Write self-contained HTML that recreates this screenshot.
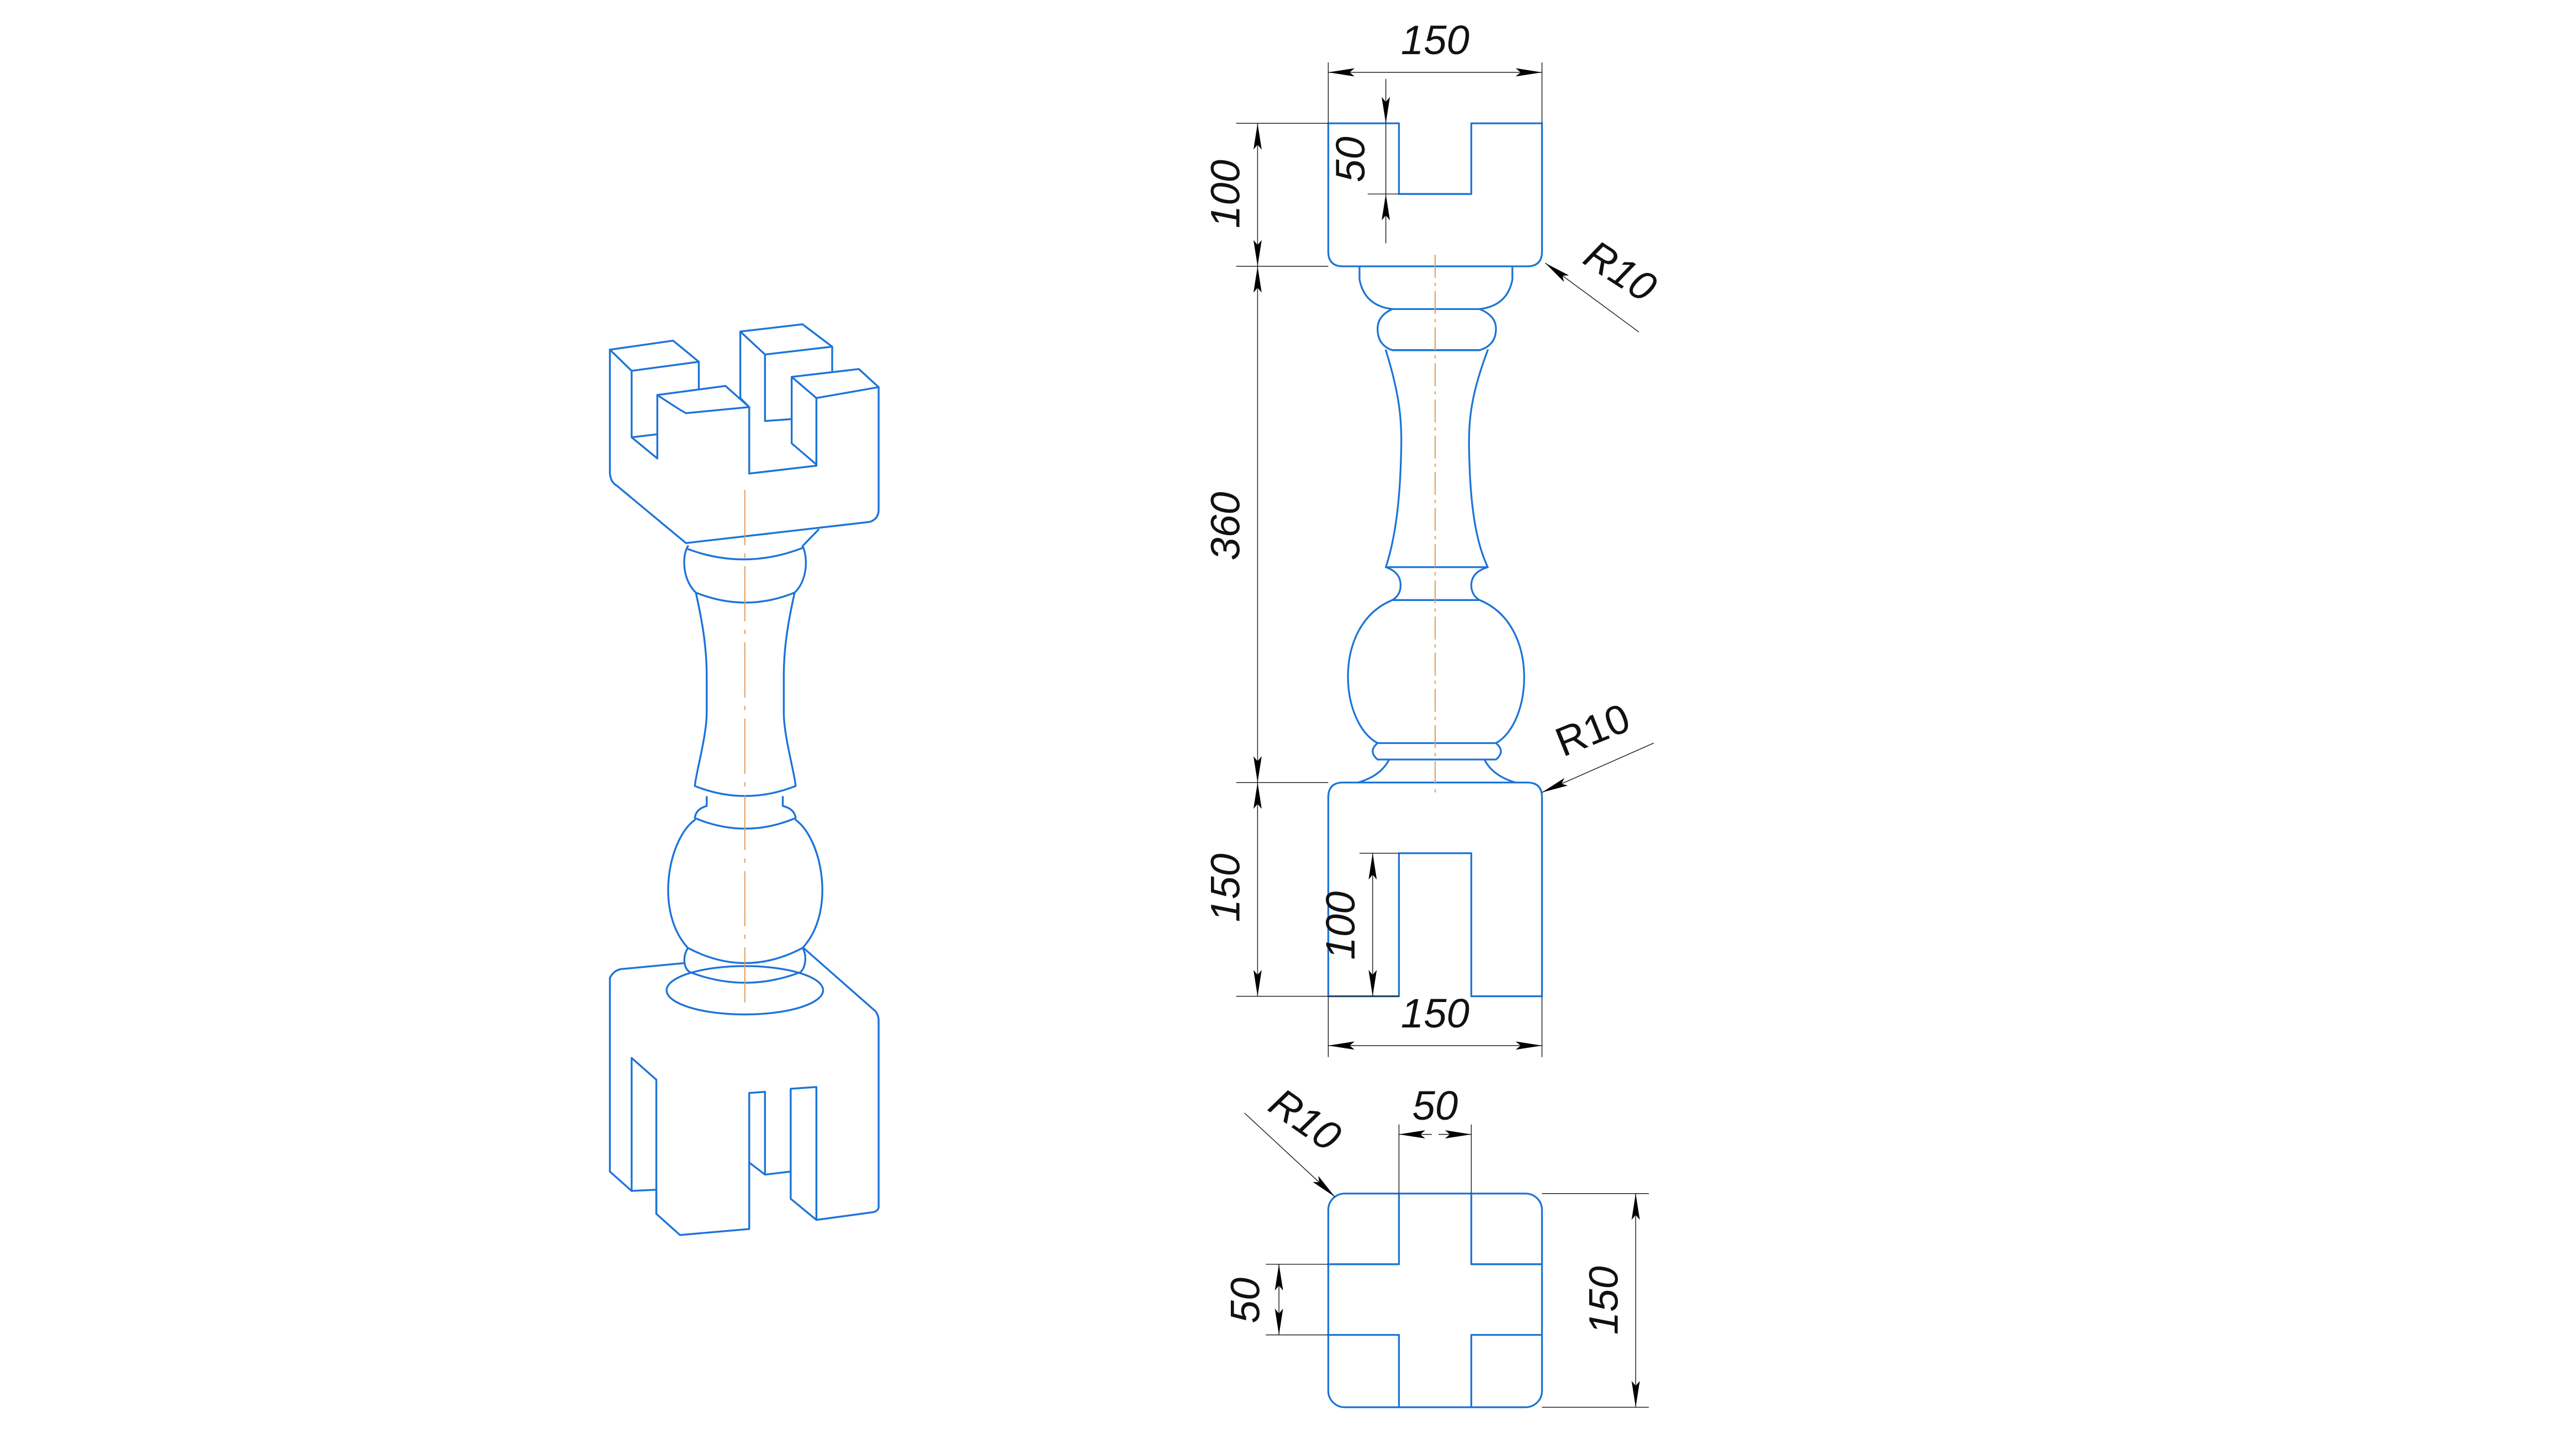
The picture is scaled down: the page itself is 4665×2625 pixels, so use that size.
<!DOCTYPE html>
<html><head><meta charset="utf-8"><style>
html,body{margin:0;padding:0;background:#fff;}
svg{display:block;}
.b{fill:none;stroke:#1d74d8;stroke-width:1.1;stroke-linejoin:round;stroke-linecap:round;}
.k{fill:none;stroke:#222;stroke-width:0.5;}
.c{fill:none;stroke:#e0a060;stroke-width:0.7;stroke-dasharray:14,3,2,3;}
text{font-family:"Liberation Sans",sans-serif;font-style:italic;font-size:25px;fill:#111;}
.iso .b path{vector-effect:non-scaling-stroke;stroke-width:3.4;}
.iso .c{vector-effect:non-scaling-stroke;stroke-width:2;}
</style></head><body>
<svg width="4665" height="2625" viewBox="0 0 1567 882" preserveAspectRatio="none" xmlns="http://www.w3.org/2000/svg">
<defs>
<marker id="a" viewBox="0 0 16 5" refX="16" refY="2.5" markerWidth="16" markerHeight="5" markerUnits="userSpaceOnUse" orient="auto-start-reverse"><path d="M0,0 L16,2.5 L0,5 L3,2.5 Z" fill="#000"/></marker>
</defs>

<!-- Isometric -->
<g class="iso" transform="translate(363.19,190.65) scale(0.1202,0.3676)">
<g class="b">
<path d="M65,60 L385,45 L515,80 L175,95 Z"/>
<path d="M175,95 L175,205 L305,240 M175,205 L305,200 M305,135 L305,240 M515,80 L515,125"/>
<path d="M305,135 L650,120 L770,155 L450,165 Q420,160 305,135 Z"/>
<path d="M770,155 L770,265 L1110,252 L1110,140"/>
<path d="M725,30 L1040,18 L1190,55 L850,68 Z M725,30 L725,140 L770,155 M850,68 L850,178 L980,175 M1190,55 L1190,95"/>
<path d="M985,105 L1325,92 L1425,122 L1110,140 Z M985,105 L985,215 L1110,250"/>
<path d="M65,60 L65,265 Q70,280 100,285 L450,380 L1380,345 Q1425,340 1425,325 L1425,122"/>
<path d="M460,385 C430,400 430,440 500,462 Q750,495 1000,462 C1070,440 1065,400 1040,385 M460,390 Q750,425 1040,388 M1040,385 L1120,358"/>
<path d="M500,462 C540,520 555,560 555,600 L555,660 C555,700 500,760 495,782 Q750,815 1005,782 C1000,760 945,700 945,660 L945,600 C945,560 960,520 1000,462"/>
<path d="M555,800 L555,815 M940,800 L940,815 M555,815 Q500,820 495,835 Q750,870 1005,835 Q1000,820 940,815"/>
<path d="M495,838 C360,870 290,990 460,1050 M1005,838 C1140,870 1210,990 1040,1050 M460,1050 Q750,1100 1040,1050"/>
<path d="M460,1050 C430,1065 440,1085 470,1090 Q750,1125 1030,1090 C1060,1080 1060,1060 1040,1050"/>
<path d="M352,1120 A396,40 0 1 0 1144,1120 A396,40 0 1 0 352,1120"/>
<path d="M65,1100 Q80,1088 120,1085 L440,1075 M1045,1050 L1410,1155 Q1425,1162 1425,1170 L1425,1480 Q1420,1485 1400,1487 L1110,1500 L1110,1280 L980,1283 L980,1465 L1110,1500"/>
<path d="M65,1100 L65,1420 L175,1452 L300,1450 L300,1490 L420,1525 L770,1515 L770,1290 L850,1288 L850,1425 L980,1420 M770,1405 L850,1425"/>
<path d="M175,1232 L175,1452 M175,1232 L300,1268 L300,1490"/>
</g>
<path class="c" d="M748,292 L748,1140" style="stroke-dasharray:100,15,8,15"/>
</g>

<!-- Front view -->
<g class="b">
<path d="M808,75 L808,153 Q808,162 817,162 L929,162 Q938,162 938,153 L938,75 L895,75 L895,118 L851,118 L851,75 Z"/>
<path d="M827,162 L827,170 Q830,186 847,188 L900,188 Q917,186 920,170 L920,162"/>
<path d="M847,188 Q838,192 838,200 Q838,210 847,213 L900,213 Q910,210 910,200 Q910,192 900,188"/>
<path d="M847,213 L900,213 M843,213 C853,245 853,260 852,285 C851,310 848,330 843,345 L905,345 C898,330 895,310 894,285 C893,260 893,245 905,213"/>
<path d="M843,345 Q852,348 852,356 Q852,362 847,365 L900,365 Q895,362 895,356 Q895,348 905,345"/>
<path d="M847,365 C810,380 815,440 838,452 L910,452 C932,440 937,380 900,365"/>
<path d="M838,452 Q832,457 838,462 L910,462 Q916,457 910,452 M845,462 Q840,472 826,476 M903,462 Q908,472 922,476"/>
<path d="M808,606 L808,485 Q808,476 817,476 L929,476 Q938,476 938,485 L938,606 L895,606 L895,519 L851,519 L851,606 Z"/>
</g>
<path class="c" d="M873,155 L873,485"/>

<!-- Top view -->
<g class="b">
<rect x="808" y="726" width="130" height="130" rx="10"/>
<path d="M851,726 L851,769 L808,769 M895,726 L895,769 L938,769 M808,812 L851,812 L851,856 M938,812 L895,812 L895,856"/>
</g>

<!-- Dimensions -->
<g class="k">
<path d="M808,38 L808,75 M938,38 L938,75"/>
<path d="M808,44 L938,44" marker-start="url(#a)" marker-end="url(#a)"/>
<path d="M843,48 L843,75" marker-end="url(#a)"/>
<path d="M843,148 L843,118" marker-end="url(#a)"/>
<path d="M843,75 L843,118 M832,118 L851,118"/>
<path d="M752,75 L808,75 M752,162 L808,162 M752,476 L808,476 M752,606 L851,606 M827,519 L851,519"/>
<path d="M765,75 L765,162" marker-start="url(#a)" marker-end="url(#a)"/>
<path d="M765,162 L765,476" marker-start="url(#a)" marker-end="url(#a)"/>
<path d="M765,476 L765,606" marker-start="url(#a)" marker-end="url(#a)"/>
<path d="M835,519 L835,606" marker-start="url(#a)" marker-end="url(#a)"/>
<path d="M808,606 L808,643 M938,606 L938,643"/>
<path d="M808,636 L938,636" marker-start="url(#a)" marker-end="url(#a)"/>
<path d="M997,202 L940,160" marker-end="url(#a)"/>
<path d="M1006,452 L938,482" marker-end="url(#a)"/>
<path d="M851,684 L851,726 M895,684 L895,726"/>
<path d="M851,690 L871,690" marker-start="url(#a)"/>
<path d="M875,690 L895,690" marker-end="url(#a)"/>
<path d="M757,677 L812,728" marker-end="url(#a)"/>
<path d="M770,769 L808,769 M770,812 L808,812"/>
<path d="M778,769 L778,812" marker-start="url(#a)" marker-end="url(#a)"/>
<path d="M938,726 L1003,726 M938,856 L1003,856"/>
<path d="M995,726 L995,856" marker-start="url(#a)" marker-end="url(#a)"/>
</g>
<g text-anchor="middle">
<text x="873" y="33">150</text>
<text transform="translate(830,97) rotate(-90)">50</text>
<text transform="translate(754,118) rotate(-90)">100</text>
<text transform="translate(754,320) rotate(-90)">360</text>
<text transform="translate(754,540) rotate(-90)">150</text>
<text transform="translate(824,563) rotate(-90)">100</text>
<text x="873" y="625">150</text>
<text transform="translate(981,172) rotate(33)">R10</text>
<text transform="translate(972,452) rotate(-22)" style="font-style:normal">R10</text>
<text x="873" y="681">50</text>
<text transform="translate(789,688) rotate(35)">R10</text>
<text transform="translate(766,791) rotate(-90)">50</text>
<text transform="translate(984,791) rotate(-90)">150</text>
</g>
</svg>
</body></html>
